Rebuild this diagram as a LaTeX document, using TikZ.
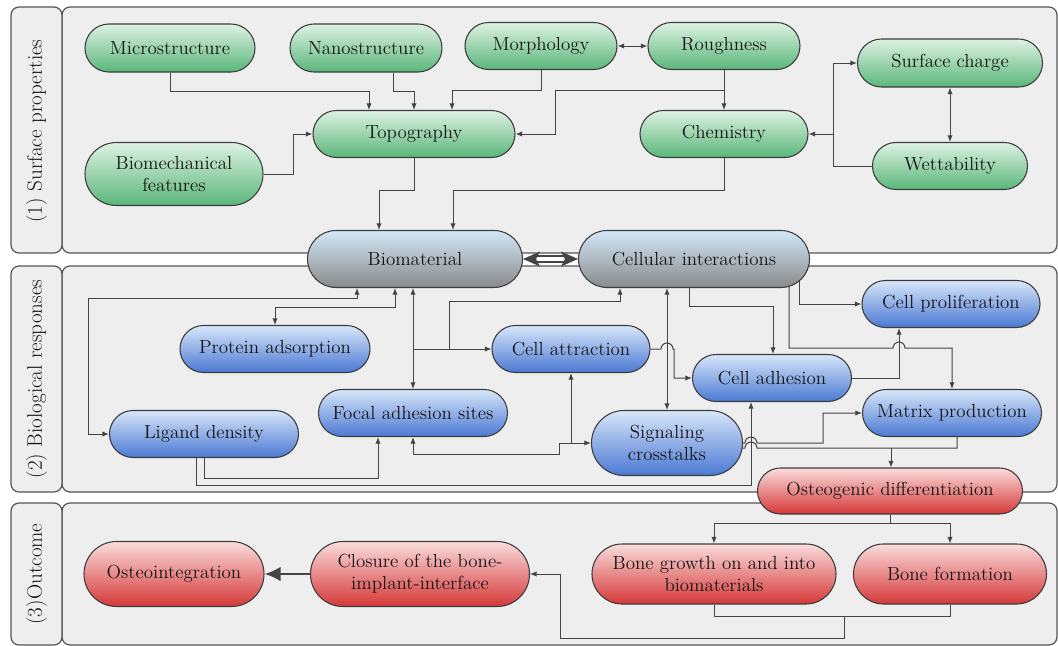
\documentclass[tikz,border=0pt]{standalone}
\usepackage{fontspec}
\usetikzlibrary{shapes.misc,arrows.meta,calc}
\pgfdeclarelayer{background}
\pgfdeclarelayer{edges}
\pgfsetlayers{background,edges,main}
\definecolor{panelfill}{HTML}{EEEEEE}
\definecolor{panelline}{HTML}{555555}
\definecolor{edgec}{HTML}{444444}
\definecolor{nodeline}{HTML}{3C3C3C}
\definecolor{txt}{HTML}{151515}
\definecolor{gtop}{HTML}{DDF2E3}
\definecolor{gbot}{HTML}{5AB67A}
\definecolor{btop}{HTML}{D8E7FA}
\definecolor{bbot}{HTML}{4A78D2}
\definecolor{rtop}{HTML}{FADCDC}
\definecolor{rbot}{HTML}{D63838}
\definecolor{ktop}{HTML}{D2E8F7}
\definecolor{kbot}{HTML}{8A8A8A}
\begin{document}
\begin{tikzpicture}[x=0.75pt,y=-0.75pt,
  pill/.style={rounded rectangle, draw=nodeline, line width=0.8pt, inner sep=0pt,
    align=center, text=txt, font=\fontsize{14.2}{16.5}\selectfont},
  sz/.style 2 args={minimum width=#1*0.75pt, minimum height=#2*0.75pt},
  gnode/.style={pill, top color=gtop, bottom color=gbot},
  bnode/.style={pill, top color=btop, bottom color=bbot},
  rnode/.style={pill, top color=rtop, bottom color=rbot},
  knode/.style={pill, top color=ktop, bottom color=kbot},
  panelbox/.style={draw=panelline, fill=panelfill, line width=0.9pt, rounded corners=6pt},
  lab/.style={rotate=90, text=txt, font=\fontsize{15.8}{18}\selectfont},
  wire/.style={draw=edgec, line width=0.75pt},
  conn/.style={wire, -{Latex[length=5pt,width=4pt]}},
  biconn/.style={wire, {Latex[length=5pt,width=4pt]}-{Latex[length=5pt,width=4pt]}},
  bigarrow/.style={draw=edgec, line width=2pt, -{Latex[length=12pt,width=11pt]}}
]
\clip (0,0) rectangle (1058,646);

% ---------- panels ----------
\begin{pgfonlayer}{background}
\fill[white] (0,0) rectangle (1058,646);
\path[panelbox] (62,7) rectangle (1057,253);
\path[panelbox] (11,7) rectangle (62,253);
\path[panelbox] (62,266) rectangle (1057,492);
\path[panelbox] (11,266) rectangle (62,492);
\path[panelbox] (62,503) rectangle (1057,645);
\path[panelbox] (11,503) rectangle (62,645);
\end{pgfonlayer}
\node[lab] (lab1) at (36.5,131) {(1) Surface properties};
\node[lab] (lab2) at (36.5,379) {(2) Biological responses};
\node[lab] (lab3) at (36.5,574) {(3)Outcome};

% ---------- nodes: surface properties ----------
\node[gnode, sz={170}{48}] (micro) at (170,48) {Microstructure};
\node[gnode, sz={152}{48}] (nano) at (366,48) {Nanostructure};
\node[gnode, sz={152}{47}] (morph) at (541,46) {Morphology};
\node[gnode, sz={152}{47}] (rough) at (724,46) {Roughness};
\node[gnode, sz={202}{47}] (topo) at (414,134) {Topography};
\node[gnode, sz={168}{47}] (chem) at (724,134) {Chemistry};
\node[gnode, sz={185}{48}] (surf) at (950,63) {Surface charge};
\node[gnode, sz={155}{47}] (wett) at (950,166) {Wettability};
\node[gnode, sz={178}{63}] (biomech) at (174,174) {Biomechanical\\features};

% ---------- nodes: biological responses ----------
\node[knode, sz={215}{57}] (bio) at (415,259) {Biomaterial};
\node[knode, sz={231}{57}] (cell) at (694,259) {Cellular interactions};
\node[bnode, sz={178}{47}] (cprol) at (951,304) {Cell proliferation};
\node[bnode, sz={190}{47}] (prot) at (275,349) {Protein adsorption};
\node[bnode, sz={158}{47}] (catt) at (571,349) {Cell attraction};
\node[bnode, sz={159}{47}] (cadh) at (772,378) {Cell adhesion};
\node[bnode, sz={189}{47}] (lig) at (204,434) {Ligand density};
\node[bnode, sz={189}{47}] (focal) at (413,413) {Focal adhesion sites};
\node[bnode, sz={151}{65}] (sig) at (667,443) {Signaling\\crosstalks};
\node[bnode, sz={179}{47}] (matrix) at (952,413) {Matrix production};

% ---------- nodes: outcome ----------
\node[rnode, sz={265}{46}] (ost) at (890,491) {Osteogenic differentiation};
\node[rnode, sz={244}{60}] (bgrow) at (714,574) {Bone growth on and into\\biomaterials};
\node[rnode, sz={193}{60}] (bform) at (950,574) {Bone formation};
\node[rnode, sz={219}{65}] (closure) at (420,574) {Closure of the bone-\\implant-interface};
\node[rnode, sz={180}{65}] (osteo) at (174,574) {Osteointegration};

\begin{pgfonlayer}{edges}
% surface properties
\draw[conn] (micro.south) |- (369,91) -- (topo.north -| 369,0);
\draw[conn] (nano.south -| 393,0) |- (414,91) -- (topo.north);
\draw[conn] (morph.south) |- (452,90) -- (topo.north -| 452,0);
\draw[conn] (rough.south) -- (chem.north);
\draw[conn] (rough.south |- 0,90) -| (555,0 |- topo.east) -- (topo.east);
\draw[conn] (biomech.east) -| (293,0 |- topo.west) -- (topo.west);
\draw[conn] (wett.west) -| (833,0 |- surf.west) -- (surf.west);
\draw[conn] (833,0 |- chem.east) -- (chem.east);
\draw[biconn] (surf.south) -- (wett.north);
\draw[biconn] (morph.east) -- (rough.west);
\draw[conn] (topo.south) |- (379,190) -- (bio.north -| 379,0);
\draw[conn] (chem.south) |- (453,190) -- (bio.north -| 453,0);

% biomaterial <-> cellular interactions (double arrow)
\draw[edgec, line width=1pt, double=white, double distance=3.5pt]
  ($(bio.east)+(12,0)$) -- ($(cell.west)+(-12,0)$);
\fill[edgec] (bio.east) -- ++(17,-7.5) -- ++(-4,7.5) -- ++(4,7.5) -- cycle;
\fill[edgec] (cell.west) -- ++(-17,-7.5) -- ++(4,7.5) -- ++(-4,7.5) -- cycle;

% biological responses
\draw[biconn] (bio.south -| 357,0) |- (88,298) |- (lig.west);
\draw[biconn] (bio.south -| 395,0) |- (275,307) -- (prot.north);
\draw[biconn] (bio.south -| focal.north) -- (focal.north);
\draw[conn] (focal.north |- catt.west) -- (catt.west);
\draw[conn] (449,0 |- catt.west) |- (620,301) -- (cell.south -| 620,0);
\draw[conn] (catt.east) -- (661,349) arc[start angle=180, end angle=360, radius=6]
  -- (674,349) |- (cadh.west);
\draw[biconn] (cell.south -| sig.north) -- (sig.north);
\draw[biconn] (focal.south) |- (559,454) |- (sig.west);
\draw[conn] (catt.south |- sig.west) -- (catt.south);
\draw[conn] (lig.south) |- (378,478) -- (focal.south -| 378,0);
\draw[conn] (lig.south -| 196,0) |- (751,485) -- (cadh.south -| 751,0);
\draw[conn] (cell.south -| 689,0) |- (773,306) -- (cadh.north -| 773,0);
\draw[conn] (cell.center -| 789,0) -- (789,348) -- (893,348)
  arc[start angle=180, end angle=360, radius=6] -- (952,348) -- (matrix.north -| 952,0);
\draw[conn] (cell.center -| 799,0) |- (cprol.west);
\draw[conn] (cadh.east) -| (cprol.south -| 899,0);
\draw[conn] (sig.east) -- (745,443) arc[start angle=180, end angle=360, radius=6]
  -- (823,443) |- (matrix.west);
\draw[wire] (sig.center |- 0,448) -- (745,448) arc[start angle=180, end angle=360, radius=6]
  -- (957,448) -- (matrix.south -| 957,0);
\draw[conn] (891,448) -- (ost.north -| 891,0);

% outcome
\draw[conn] (ost.south) |- (bgrow.north |- 0,523) -- (bgrow.north);
\draw[conn] (ost.south) |- (bform.north |- 0,523) -- (bform.north);
\draw[wire] (bgrow.south) |- (bform.south |- 0,616) -- (bform.south);
\draw[conn] (844,616) |- (560,638) |- (closure.east);
\draw[bigarrow] (closure.west) -- (osteo.east);
\end{pgfonlayer}
\end{tikzpicture}
\end{document}
